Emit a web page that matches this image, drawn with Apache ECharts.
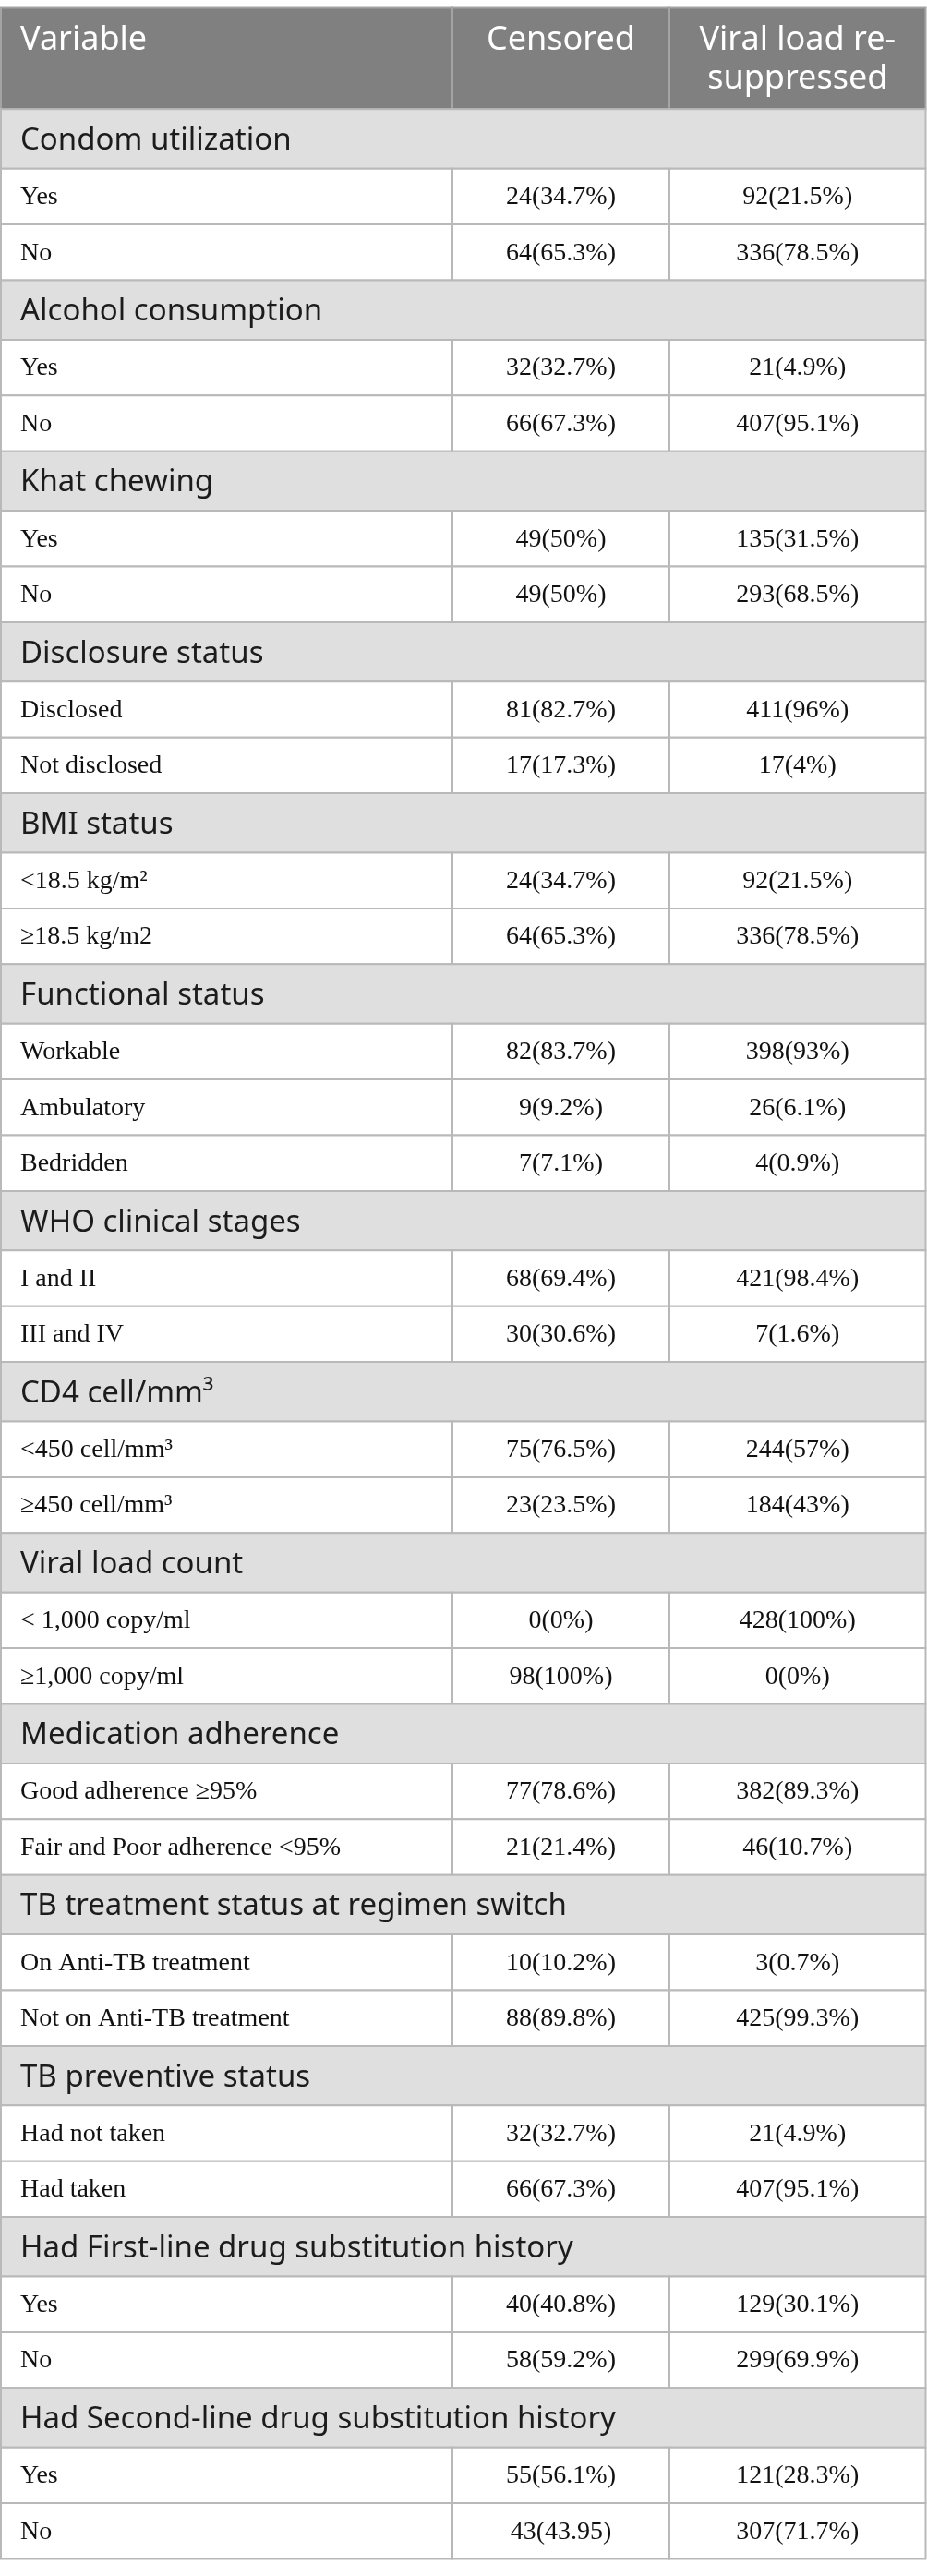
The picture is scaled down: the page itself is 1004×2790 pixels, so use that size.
<!DOCTYPE html>
<html>
<head>
<meta charset="utf-8">
<title>Censored vs viral load re-suppressed</title>
<script src="https://cdn.jsdelivr.net/npm/echarts@6.0.0/dist/echarts.min.js"></script>
<style>
  html, body { margin: 0; padding: 0; background: #fff; }
  #table { width: 1004px; height: 2790px; }
</style>
</head>
<body>
<div id="table"></div>
<script>
const headers = ["Variable", "Censored", "Viral load re-\nsuppressed"];

const sections = [
    "Condom utilization",
    "Alcohol consumption",
    "Khat chewing",
    "Disclosure status",
    "BMI status",
    "Functional status",
    "WHO clinical stages",
    "CD4 cell/mm³",
    "Viral load count",
    "Medication adherence",
    "TB treatment status at regimen switch",
    "TB preventive status",
    "Had First-line drug substitution history",
    "Had Second-line drug substitution history"
];

const levels = [
    ["Yes", "No"],
    ["Yes", "No"],
    ["Yes", "No"],
    ["Disclosed", "Not disclosed"],
    ["<18.5 kg/m²", "≥18.5 kg/m2"],
    ["Workable", "Ambulatory", "Bedridden"],
    ["I and II", "III and IV"],
    ["<450 cell/mm³", "≥450 cell/mm³"],
    ["< 1,000 copy/ml", "≥1,000 copy/ml"],
    ["Good adherence ≥95%", "Fair and Poor adherence <95%"],
    ["On Anti-TB treatment", "Not on Anti-TB treatment"],
    ["Had not taken", "Had taken"],
    ["Yes", "No"],
    ["Yes", "No"]
];

const censored = [
    ["24(34.7%)", "64(65.3%)"],
    ["32(32.7%)", "66(67.3%)"],
    ["49(50%)", "49(50%)"],
    ["81(82.7%)", "17(17.3%)"],
    ["24(34.7%)", "64(65.3%)"],
    ["82(83.7%)", "9(9.2%)", "7(7.1%)"],
    ["68(69.4%)", "30(30.6%)"],
    ["75(76.5%)", "23(23.5%)"],
    ["0(0%)", "98(100%)"],
    ["77(78.6%)", "21(21.4%)"],
    ["10(10.2%)", "88(89.8%)"],
    ["32(32.7%)", "66(67.3%)"],
    ["40(40.8%)", "58(59.2%)"],
    ["55(56.1%)", "43(43.95)"]
];

const resuppressed = [
    ["92(21.5%)", "336(78.5%)"],
    ["21(4.9%)", "407(95.1%)"],
    ["135(31.5%)", "293(68.5%)"],
    ["411(96%)", "17(4%)"],
    ["92(21.5%)", "336(78.5%)"],
    ["398(93%)", "26(6.1%)", "4(0.9%)"],
    ["421(98.4%)", "7(1.6%)"],
    ["244(57%)", "184(43%)"],
    ["428(100%)", "0(0%)"],
    ["382(89.3%)", "46(10.7%)"],
    ["3(0.7%)", "425(99.3%)"],
    ["21(4.9%)", "407(95.1%)"],
    ["129(30.1%)", "299(69.9%)"],
    ["121(28.3%)", "307(71.7%)"]
];

// --- layout / style ---
const WIDTH = 1004, HEIGHT = 2790;
const COLS = [1, 490, 725, 1002.5];
const TOP = 8.5;
const ROW_H = { header: 109.8, section: 64.4, data: 60.4 };
const PAD = 21;
const SANS = '"Noto Sans", "Open Sans", sans-serif';
const SERIF = '"Liberation Serif", "DejaVu Serif", serif';
const HEADER_BG = "#808080", SECTION_BG = "#e0dfe0";
const BORDER = "#b9b9b9", HEADER_BORDER = "#a4a4a4";

// flatten into rows with their vertical extents
const rows = [{ kind: "header", cells: headers }];
sections.forEach((s, i) => {
    rows.push({ kind: "section", label: s });
    levels[i].forEach((lv, j) => {
        rows.push({ kind: "data", cells: [lv, censored[i][j], resuppressed[i][j]] });
    });
});
let cursor = TOP;
const rowData = rows.map((r, i) => {
    const y0 = cursor;
    cursor += ROW_H[r.kind];
    return [i, y0, cursor];
});

function renderItem(params, api) {
    const row = rows[api.value(0)];
    const y0 = api.value(1), y1 = api.value(2);
    const children = [];
    const box = (xa, xb) => {
        const a = api.coord([xa, y0]), b = api.coord([xb, y1]);
        return { x: a[0], y: a[1], width: b[0] - a[0], height: b[1] - a[1] };
    };

    if (row.kind === "section") {
        const r = box(COLS[0], COLS[3]);
        children.push({ type: "rect", shape: r, style: { fill: SECTION_BG, stroke: BORDER, lineWidth: 2 } });
        children.push({
            type: "text",
            style: {
                text: row.label, x: r.x + PAD, y: r.y + r.height / 2 + 2,
                font: "33px " + SANS, fill: "#1c1c1c", align: "left", verticalAlign: "middle"
            }
        });
        return { type: "group", children };
    }

    const isHeader = row.kind === "header";
    row.cells.forEach((txt, c) => {
        const r = box(COLS[c], COLS[c + 1]);
        children.push({
            type: "rect", shape: r,
            style: { fill: isHeader ? HEADER_BG : "#fff", stroke: isHeader ? HEADER_BORDER : BORDER, lineWidth: 2 }
        });
        const x = c === 0 ? r.x + PAD : r.x + r.width / 2;
        children.push({
            type: "text",
            style: isHeader ? {
                text: txt, x, y: r.y + 14, font: "36px " + SANS, lineHeight: 42,
                fill: "#fff", align: c === 0 ? "left" : "center", verticalAlign: "top"
            } : {
                text: txt, x, y: r.y + r.height / 2 + 1, font: "28px " + SERIF,
                fill: "#111", align: c === 0 ? "left" : "center", verticalAlign: "middle"
            }
        });
    });
    return { type: "group", children };
}

const chart = echarts.init(document.getElementById("table"), null, { renderer: "canvas" });
chart.setOption({
    animation: false,
    backgroundColor: "#fff",
    grid: { left: 0, top: 0, width: WIDTH, height: HEIGHT, containLabel: false },
    xAxis: { type: "value", min: 0, max: WIDTH, show: false },
    yAxis: { type: "value", min: 0, max: HEIGHT, inverse: true, show: false },
    series: [{
        type: "custom",
        renderItem,
        data: rowData,
        encode: { x: 0, y: 1 },
        silent: true
    }]
});
</script>
</body>
</html>
